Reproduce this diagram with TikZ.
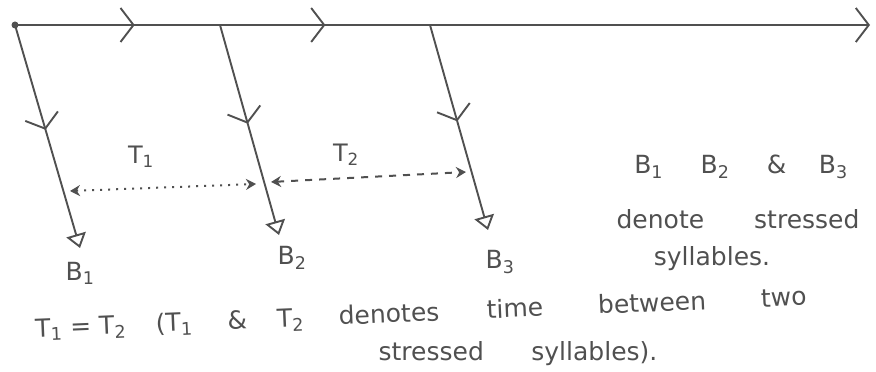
\documentclass[tikz,border=0pt]{standalone}
\usepackage{fontspec}
\setmainfont{DejaVu Sans}
\usetikzlibrary{arrows.meta,decorations.markings}
\definecolor{pencil}{RGB}{80,80,80}

\tikzset{
  chev/.tip={Straight Barb[length=13pt,width=34pt,line width=1.9pt]},
  hollow/.tip={Triangle[open,length=14pt,width=20pt,line width=1.9pt]},
  dart/.tip={Stealth[length=10pt,width=11pt]},
  axis/.style={pencil,line width=1.9pt,-chev,postaction={decorate},
     decoration={markings,
       mark=at position 0.14 with {\arrow{chev}},
       mark=at position 0.363 with {\arrow{chev}}}},
  beat/.style={pencil,line width=1.9pt,-hollow,postaction={decorate},
     decoration={markings,mark=at position 0.47 with {\arrow{chev}}}},
  span/.style={pencil,line width=2pt,dart-dart},
  hand/.style={text=pencil,font=\fontsize{25}{30}\selectfont,inner sep=0pt}
}

\begin{document}
\begin{tikzpicture}[x=1pt,y=1pt]
  \useasboundingbox (0,0) rectangle (876,372);
  % time line
  \coordinate (O) at (15,347);
  \coordinate (E) at (870,347);
  \coordinate (S2) at (220,347);
  \coordinate (S3) at (430,347);
  \fill[pencil] (O) circle (3.5pt);
  \draw[axis] (O) -- (E);
  % beats
  \coordinate (B1) at (80,124);
  \coordinate (B2) at (279,137);
  \coordinate (B3) at (488,142);
  \draw[beat] (O) -- (B1);
  \draw[beat] (S2) -- (B2);
  \draw[beat] (S3) -- (B3);
  \node[hand] (lB1) at (80,99) {B\textsubscript{1}};
  \node[hand] (lB2) at (292,114) {B\textsubscript{2}};
  \node[hand] (lB3) at (500,110) {B\textsubscript{3}};
  % intervals
  \coordinate (T1a) at (70,181);
  \coordinate (T1b) at (256,188);
  \coordinate (T2a) at (271,190);
  \coordinate (T2b) at (466,200);
  \draw[span,dash pattern=on 2pt off 6pt] (T1a) -- (T1b);
  \draw[span,dash pattern=on 7pt off 7pt] (T2a) -- (T2b);
  \node[hand,font=\fontsize{24}{28}\selectfont] (lT1) at (141,215) {T\textsubscript{1}};
  \node[hand,font=\fontsize{24}{28}\selectfont] (lT2) at (346,217) {T\textsubscript{2}};
  % note
  \node[hand] (n1) at (741,205) {B\textsubscript{1}\hspace{1.5em}B\textsubscript{2}\hspace{1.5em}\&\hspace{1.3em}B\textsubscript{3}};
  \node[hand] (n2) at (738,153) {denote\hspace{2em}stressed};
  \node[hand] (n3) at (712,113) {syllables.};
  \node[hand,rotate=2.4] (n4) at (421,58)
    {T\textsubscript{1} = T\textsubscript{2}\hspace{1.2em}(T\textsubscript{1}\hspace{1.4em}\&\hspace{1.2em}T\textsubscript{2}\hspace{1.4em}denotes\hspace{1.9em}time\hspace{2.2em}between\hspace{2.2em}two};
  \node[hand] (n5) at (518,18) {stressed\hspace{1.9em}syllables).};
\end{tikzpicture}
\end{document}
